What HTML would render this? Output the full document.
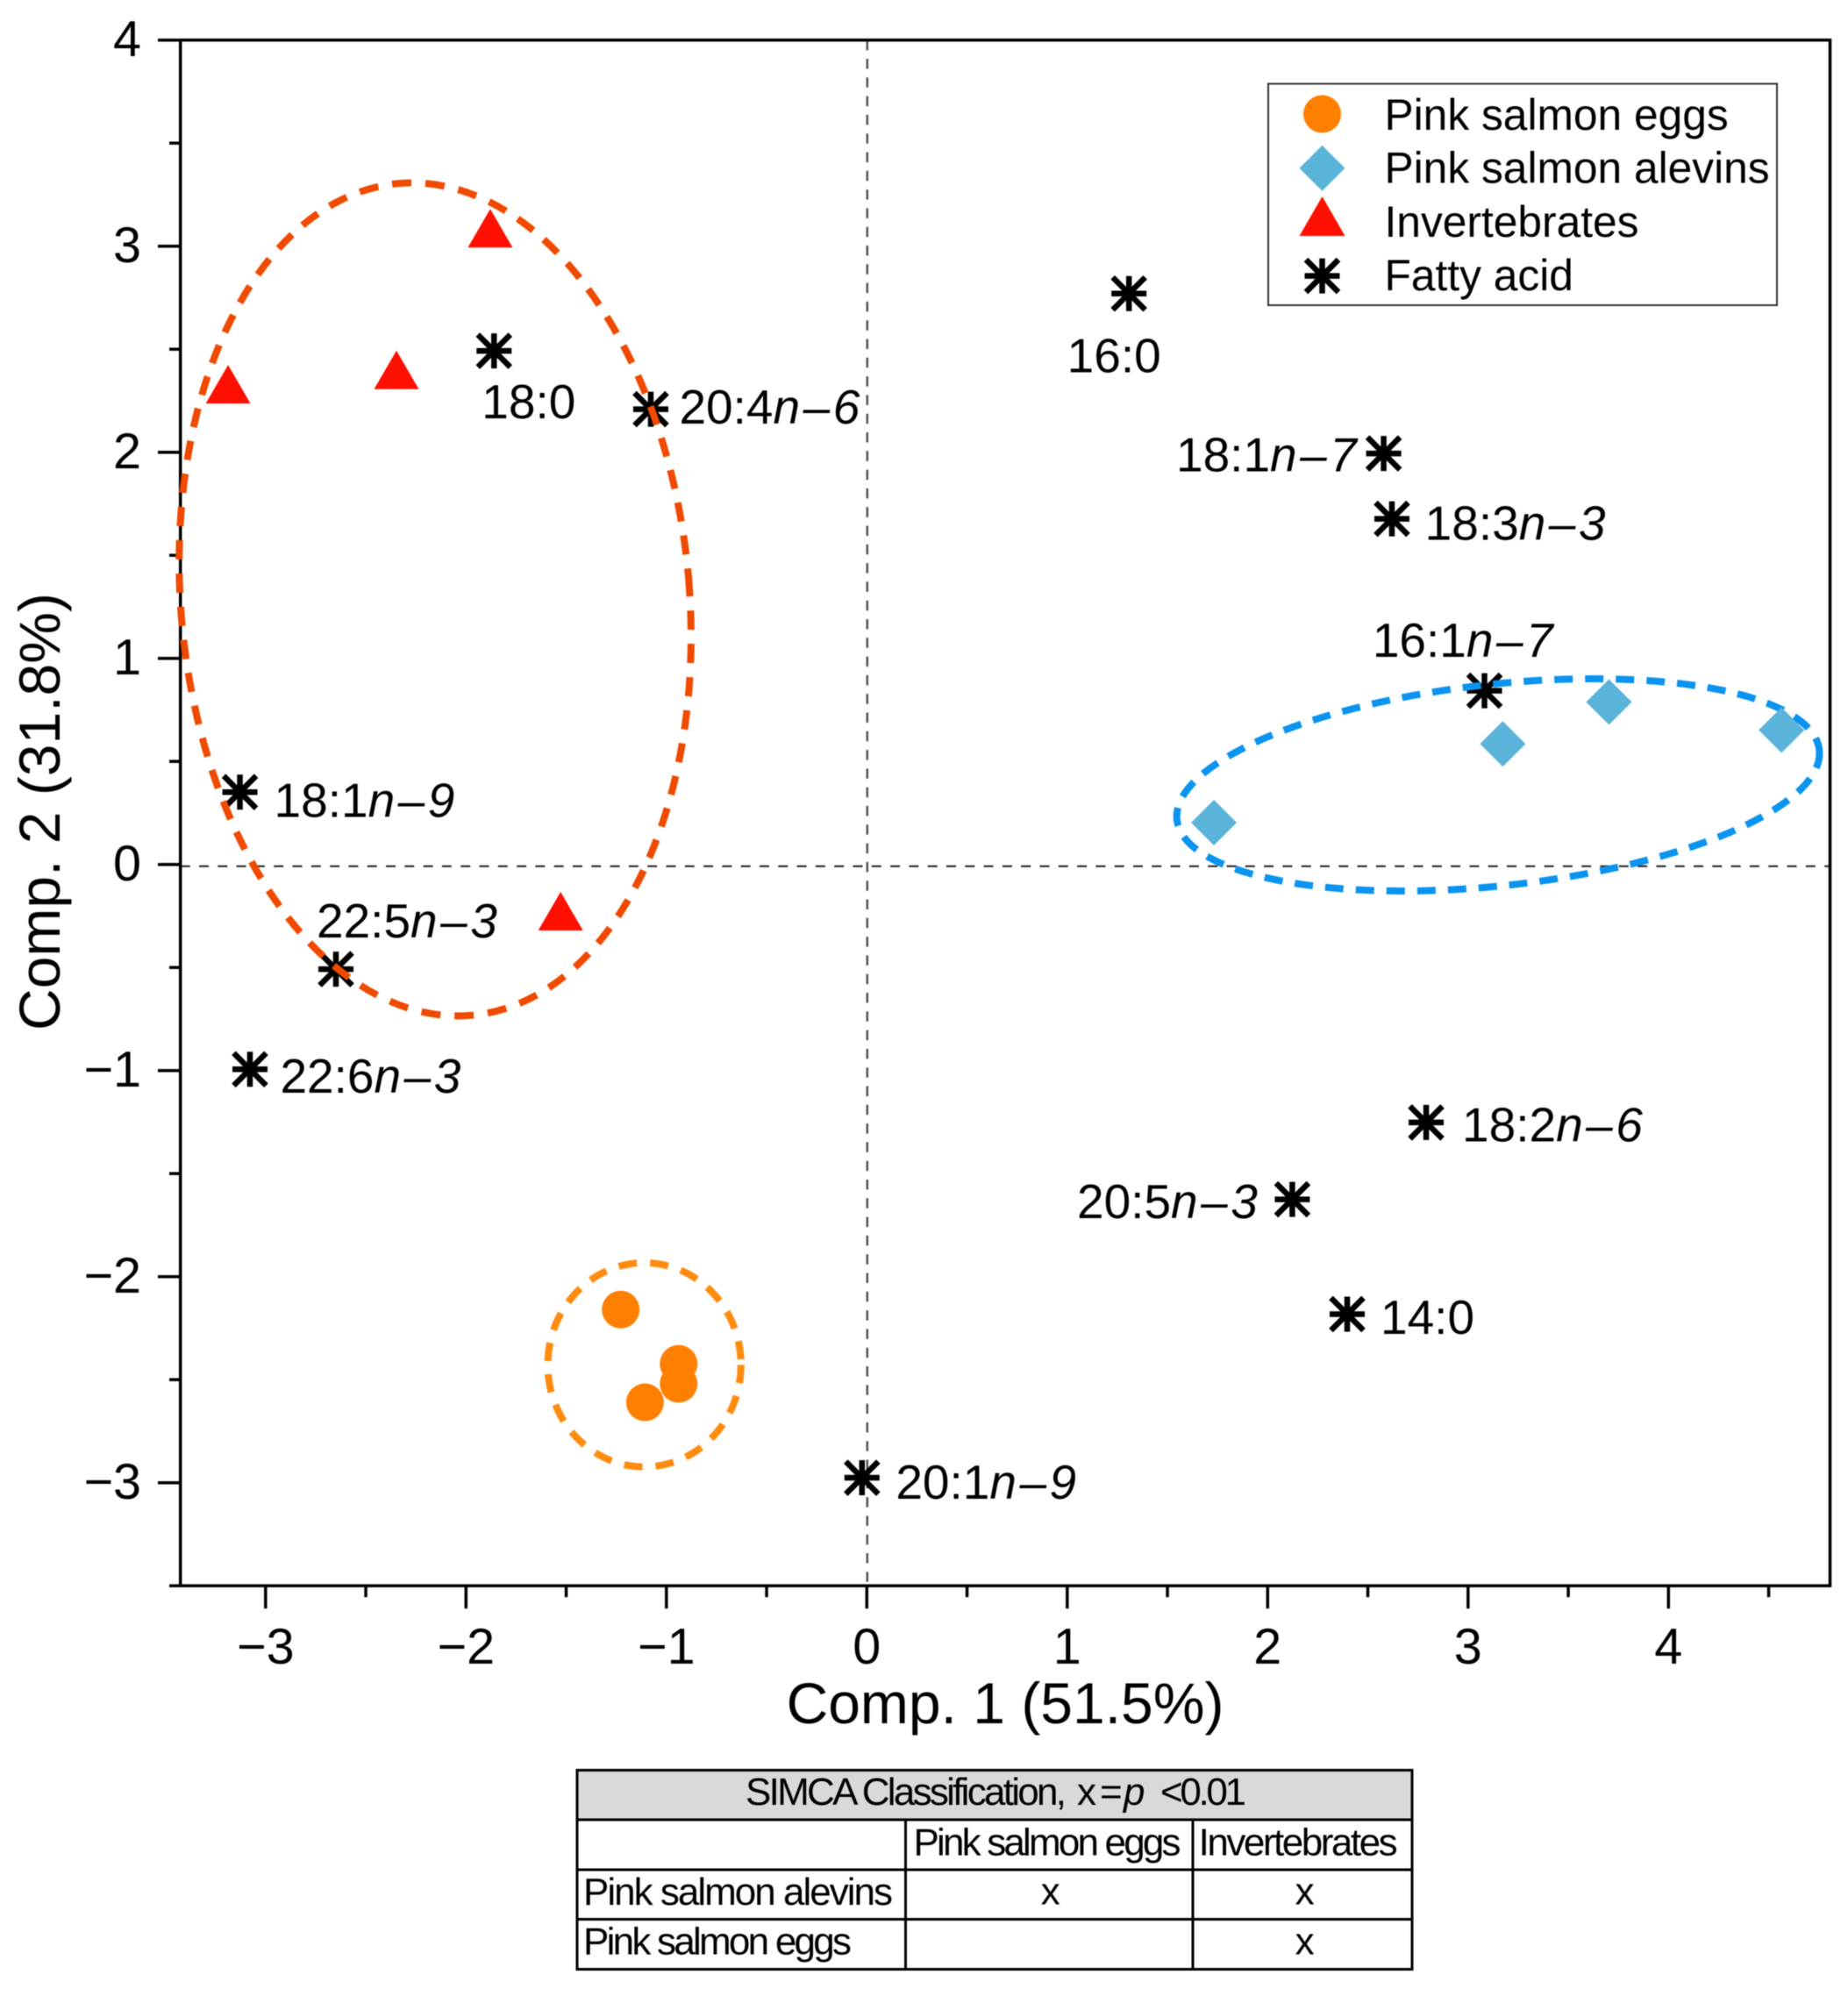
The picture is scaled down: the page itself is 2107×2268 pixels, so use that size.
<!DOCTYPE html>
<html lang="en">
<head>
<meta charset="utf-8">
<title>PCA biplot of pink salmon fatty acids</title>
<style>
  html, body { margin: 0; padding: 0; background: #fff; }
  svg { display: block; font-family: "Liberation Sans", Arial, sans-serif; fill: #000; filter: blur(0.5px); }
</style>
</head>
<body>
<svg id="chart" xmlns="http://www.w3.org/2000/svg" width="2107" height="2268" viewBox="0 0 2107 2268">
  <rect x="0" y="0" width="2107" height="2268" fill="#fff"/>
  <g id="plot"></g>

  <g>
    <rect x="1446" y="95.5" width="580" height="252.5" fill="#fff" stroke="#333" stroke-width="2"/>
    <circle cx="1507.5" cy="130" r="21.5" fill="#ff8000"/>
    <text x="1578.5" y="148" font-size="49.7">Pink salmon eggs</text>
    <polygon points="1507.5,165.7 1533.5,191.7 1507.5,217.7 1481.5,191.7" fill="#5ab4da"/>
    <text x="1578.5" y="208.7" font-size="49.7">Pink salmon alevins</text>
    <polygon points="1507.5,224 1533.5,269 1481.5,269" fill="#ff1000"/>
    <text x="1578.5" y="269.8" font-size="49.7">Invertebrates</text>
    <g stroke="#000" stroke-width="6.5">
      <line x1="1487.5" y1="314.6" x2="1527.5" y2="314.6"/>
      <line x1="1507.5" y1="294.6" x2="1507.5" y2="334.6"/>
      <line x1="1489" y1="296.1" x2="1526" y2="333.1"/>
      <line x1="1489" y1="333.1" x2="1526" y2="296.1"/>
    </g>
    <text x="1578.5" y="331" font-size="49.7">Fatty acid</text>
  </g>

  <g font-size="44">
    <rect x="658" y="2018.5" width="952" height="56.5" fill="#d9d9d9"/>
    <g stroke="#000" stroke-width="3" fill="none">
      <rect x="658" y="2018.5" width="952" height="227"/>
      <line x1="658" y1="2075" x2="1610" y2="2075"/>
      <line x1="658" y1="2132" x2="1610" y2="2132"/>
      <line x1="658" y1="2188.5" x2="1610" y2="2188.5"/>
      <line x1="1032.5" y1="2075" x2="1032.5" y2="2245.5"/>
      <line x1="1360" y1="2075" x2="1360" y2="2245.5"/>
    </g>
    <text x="850" y="2058" textLength="366" lengthAdjust="spacing">SIMCA Classification,</text>
    <text x="1228" y="2058">x</text>
    <text x="1254" y="2058">=</text>
    <text x="1281" y="2058" font-style="italic">p</text>
    <text x="1323" y="2058" textLength="98" lengthAdjust="spacing">&lt;0.01</text>
    <text x="1041.5" y="2115.4" textLength="305" lengthAdjust="spacing">Pink salmon eggs</text>
    <text x="1366.6" y="2115.4" textLength="227" lengthAdjust="spacing">Invertebrates</text>
    <text x="665" y="2172" textLength="353" lengthAdjust="spacing">Pink salmon alevins</text>
    <text x="665" y="2228.5" textLength="306" lengthAdjust="spacing">Pink salmon eggs</text>
    <text x="1197.8" y="2171.5" text-anchor="middle">x</text>
    <text x="1487.6" y="2171.5" text-anchor="middle">x</text>
    <text x="1487.6" y="2228.5" text-anchor="middle">x</text>
  </g>
</svg>

<script>
// ---- Chart data ----
const xTickLabels = [-3, -2, -1, 0, 1, 2, 3, 4];
const xMinorTicks = [-2.5, -1.5, -0.5, 0.5, 1.5, 2.5, 3.5, 4.5];
const yTickLabels = [-3, -2, -1, 0, 1, 2, 3, 4];
const yMinorTicks = [-3.5, -2.5, -1.5, -0.5, 0.5, 1.5, 2.5, 3.5];

const eggsX = [-1.228, -0.939, -0.939, -1.107];
const eggsY = [-2.160, -2.423, -2.520, -2.610];

const alevinsX = [1.732, 3.173, 3.703, 4.564];
const alevinsY = [0.203, 0.585, 0.788, 0.652];

const invertebratesX = [-1.879, -2.347, -3.187, -1.528];
const invertebratesY = [3.087, 2.400, 2.330, -0.227];

const fattyAcidNames = ['18:0', '20:4n–6', '18:1n–9', '22:5n–3', '22:6n–3', '20:1n–9', '16:0', '18:1n–7', '18:3n–3', '16:1n–7', '18:2n–6', '20:5n–3', '14:0'];
const fattyAcidX = [-1.860, -1.078, -3.128, -2.649, -3.078, -0.024, 1.308, 2.579, 2.620, 3.082, 2.791, 2.123, 2.397];
const fattyAcidY = [2.492, 2.209, 0.351, -0.508, -0.994, -2.976, 2.770, 1.994, 1.677, 0.843, -1.252, -1.625, -2.182];

const groupEllipseNames = ['invertebrates', 'alevins', 'eggs'];
const groupEllipseCenterX = [-2.154, 3.150, -1.110];
const groupEllipseCenterY = [1.286, 0.386, -2.428];
const groupEllipseRadiusX = [1.269, 1.612, 0.482];
const groupEllipseRadiusY = [2.026, 0.489, 0.495];

// ---- Layout (not data) ----
const plotLeft = 205.7, plotRight = 2086.5, plotTop = 45.7, plotBottom = 1808.2;
const pxPerX = 228.5, pxPerY = 235, originX = 988.3, originY = 985.7;
const sx = v => originX + v * pxPerX;
const sy = v => originY - v * pxPerY;

const labelNudgeX = [-14, 32.5, 39, -22, 34.5, 38.5, -70.5, -236.6, 37.7, -127.7, 41, -245.4, 38];
const labelNudgeY = [76.8, 16.6, 28.2, -36.1, 26.7, 23.9, 89.8, 20.3, 23.9, -38.4, 21.5, 21.6, 22.5];
const ellipseTilt = [-5, -6.2, 0];
const ellipseStroke = ['#f04a00', '#0a94f0', '#ff8c0f'];
const ellipseDash = ['22 16', '21 14', '21 15'];

const NS = 'http://www.w3.org/2000/svg';
const plot = document.getElementById('plot');
function make(tag, attrs, parent) {
  const el = document.createElementNS(NS, tag);
  for (const k in attrs) el.setAttribute(k, attrs[k]);
  (parent || plot).appendChild(el);
  return el;
}
function tickText(v) { return v < 0 ? '\u2212' + Math.abs(v) : String(v); }

// Zero reference lines
const zeroV = make('line', { x1: sx(0) + 0.5, x2: sx(0) + 0.5, y1: plotTop, y2: plotBottom, stroke: '#555', 'stroke-width': 2.5, 'stroke-dasharray': '11.5 9.8' });


const zeroH = make('line', { x1: plotLeft, x2: plotRight, y1: sy(0) + 2, y2: sy(0) + 2, stroke: '#222', 'stroke-width': 2, 'stroke-dasharray': '11 10.3' });



// Frame
const frame = make('rect', { x: plotLeft, y: plotTop, width: plotRight - plotLeft, height: plotBottom - plotTop, fill: 'none', stroke: '#000', 'stroke-width': 3.5 });



// X axis ticks
xTickLabels.forEach(v => {
  const t = make('line', { x1: sx(v), x2: sx(v), y1: plotBottom, y2: plotBottom + 26, stroke: '#000', 'stroke-width': 3.5 });
  
  
  const l = make('text', { x: sx(v), y: 1897, 'font-size': 57.5, 'text-anchor': 'middle' });
  
  
  l.textContent = tickText(v);
});
xMinorTicks.forEach(v => {
  const t = make('line', { x1: sx(v), x2: sx(v), y1: plotBottom, y2: plotBottom + 13, stroke: '#000', 'stroke-width': 3.5 });
  
  
});

// Y axis ticks
yTickLabels.forEach(v => {
  const t = make('line', { x1: 180, x2: plotLeft, y1: sy(v), y2: sy(v), stroke: '#000', 'stroke-width': 3.5 });
  
  
  const l = make('text', { x: 161, y: sy(v) + 18.5, 'font-size': 57.5, 'text-anchor': 'end' });
  
  
  l.textContent = tickText(v);
});
yMinorTicks.forEach(v => {
  const t = make('line', { x1: 193, x2: plotLeft, y1: sy(v), y2: sy(v), stroke: '#000', 'stroke-width': 3.5 });
  
  
});

// Axis titles
const xTitle = make('text', { x: 1146, y: 1965, 'font-size': 66, 'text-anchor': 'middle' });


xTitle.textContent = 'Comp. 1 (51.5%)';
const yTitle = make('text', { x: 0, y: 0, 'font-size': 66, 'text-anchor': 'middle', transform: 'translate(68 925.5) rotate(-90)' });


yTitle.textContent = 'Comp. 2 (31.8%)';

// Fatty acid asterisks and labels
fattyAcidX.forEach((xv, i) => {
  const cx = sx(xv), cy = sy(fattyAcidY[i]);
  const g = make('g', { stroke: '#000', 'stroke-width': 6.5 });
  
  
  make('line', { x1: cx - 20, y1: cy, x2: cx + 20, y2: cy }, g);
  make('line', { x1: cx, y1: cy - 20, x2: cx, y2: cy + 20 }, g);
  make('line', { x1: cx - 18.5, y1: cy - 18.5, x2: cx + 18.5, y2: cy + 18.5 }, g);
  make('line', { x1: cx - 18.5, y1: cy + 18.5, x2: cx + 18.5, y2: cy - 18.5 }, g);

  const name = fattyAcidNames[i];
  const label = make('text', { x: cx + labelNudgeX[i], y: cy + labelNudgeY[i], 'font-size': 55 });
  
  
  const cut = name.indexOf('n');
  if (cut < 0) {
    label.textContent = name;
  } else {
    make('tspan', {}, label).textContent = name.slice(0, cut);
    make('tspan', { 'font-style': 'italic', 'letter-spacing': 3.5 }, label).textContent = name.slice(cut);
  }
});

// Group ellipses
groupEllipseNames.forEach((name, i) => {
  const cx = sx(groupEllipseCenterX[i]), cy = sy(groupEllipseCenterY[i]);
  const e = make('ellipse', {
    cx: cx, cy: cy,
    rx: groupEllipseRadiusX[i] * pxPerX,
    ry: groupEllipseRadiusY[i] * pxPerY,
    fill: 'none', stroke: ellipseStroke[i], 'stroke-width': 8,
    'stroke-dasharray': ellipseDash[i],
    transform: 'rotate(' + ellipseTilt[i] + ' ' + cx + ' ' + cy + ')'
  });
  
  
});

// Pink salmon eggs
eggsX.forEach((xv, i) => {
  const c = make('circle', { cx: sx(xv), cy: sy(eggsY[i]), r: 21.5, fill: '#ff8000' });
  
  
});

// Pink salmon alevins
alevinsX.forEach((xv, i) => {
  const cx = sx(xv), cy = sy(alevinsY[i]);
  const d = make('polygon', { points: [cx, cy - 26, cx + 26, cy, cx, cy + 26, cx - 26, cy].join(' '), fill: '#5ab4da' });
  
  
});

// Invertebrates
invertebratesX.forEach((xv, i) => {
  const cx = sx(xv), cy = sy(invertebratesY[i]);
  const t = make('polygon', { points: [cx, cy - 22, cx + 25.5, cy + 22, cx - 25.5, cy + 22].join(' '), fill: '#ff1000' });
  
  
});
</script>
</body>
</html>
